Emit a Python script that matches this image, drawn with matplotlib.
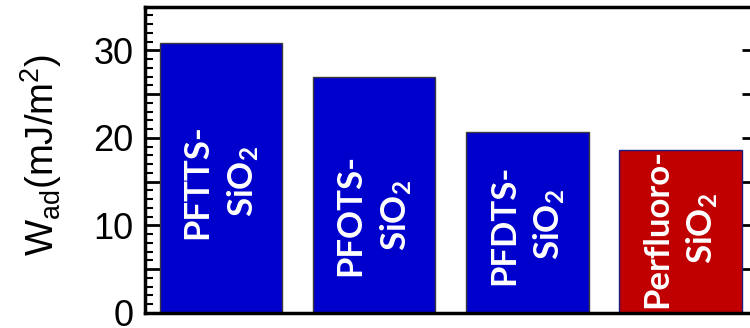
import matplotlib
matplotlib.use("Agg")
import matplotlib.pyplot as plt
from matplotlib.ticker import MultipleLocator, FuncFormatter

# Work of adhesion for each coating
categories = ["PFTTS-\nSiO$_{\\mathbf{2}}$", "PFOTS-\nSiO$_{\\mathbf{2}}$",
              "PFDTS-\nSiO$_{\\mathbf{2}}$", "Perfluoro-\nSiO$_{\\mathbf{2}}$"]
w_ad = [30.8, 26.9, 20.65, 18.65]
bar_colors = ["#0000CC", "#0000CC", "#0000CC", "#C00000"]
edge_colors = ["#3a3a3a", "#3a3a3a", "#3a3a3a", "#1a1a80"]
label_y = [15.0, 11.2, 10.1, 9.7]

plt.rcParams["mathtext.fontset"] = "custom"
plt.rcParams["mathtext.rm"] = "Liberation Sans"
plt.rcParams["mathtext.it"] = "Liberation Sans:italic"
plt.rcParams["mathtext.bf"] = "Lato:bold"

fig = plt.figure(figsize=(7.5, 3.28), dpi=100)
W, H = 750, 328
ax = fig.add_axes([144.5 / W, 15 / H, (757 - 144.5) / W, (313 - 6.5) / H])

x = range(len(w_ad))
ax.bar(x, w_ad, width=0.8, color=bar_colors, edgecolor=edge_colors,
       linewidth=1.0, zorder=2)

for xi, ly, lab in zip(x, label_y, categories):
    ax.text(xi, ly, lab, rotation=90, ha="center", va="center",
            multialignment="center", color="white", fontsize=25,
            fontfamily="Lato", fontweight="bold", linespacing=1.4,
            zorder=3)

ax.set_xlim(-0.5, 3.5)
ax.set_ylim(0, 35)
ax.set_xticks([])

ax.yaxis.set_major_locator(MultipleLocator(5))
ax.yaxis.set_minor_locator(MultipleLocator(1))
ax.yaxis.set_major_formatter(
    FuncFormatter(lambda v, p: f"{v:.0f}" if round(v) % 10 == 0 else ""))

ax.tick_params(axis="y", which="major", direction="in", length=11, width=2,
               left=True, right=True, pad=8, labelsize=26)
ax.tick_params(axis="y", which="minor", direction="in", length=5.5,
               width=1.5, left=True, right=False)
for lbl in ax.get_yticklabels():
    lbl.set_fontfamily("Liberation Sans")

for side in ["left", "top", "bottom", "right"]:
    ax.spines[side].set_linewidth(2.5)

ax.set_ylabel("W$_{\\mathrm{ad}}$(mJ/m$^{\\mathrm{2}}$)", fontsize=27.5,
              fontfamily="Liberation Sans", va="baseline")
ax.yaxis.set_label_coords((54 - 144.5) / 612.5, 0.515)

fig.savefig("out.png", dpi=100)
